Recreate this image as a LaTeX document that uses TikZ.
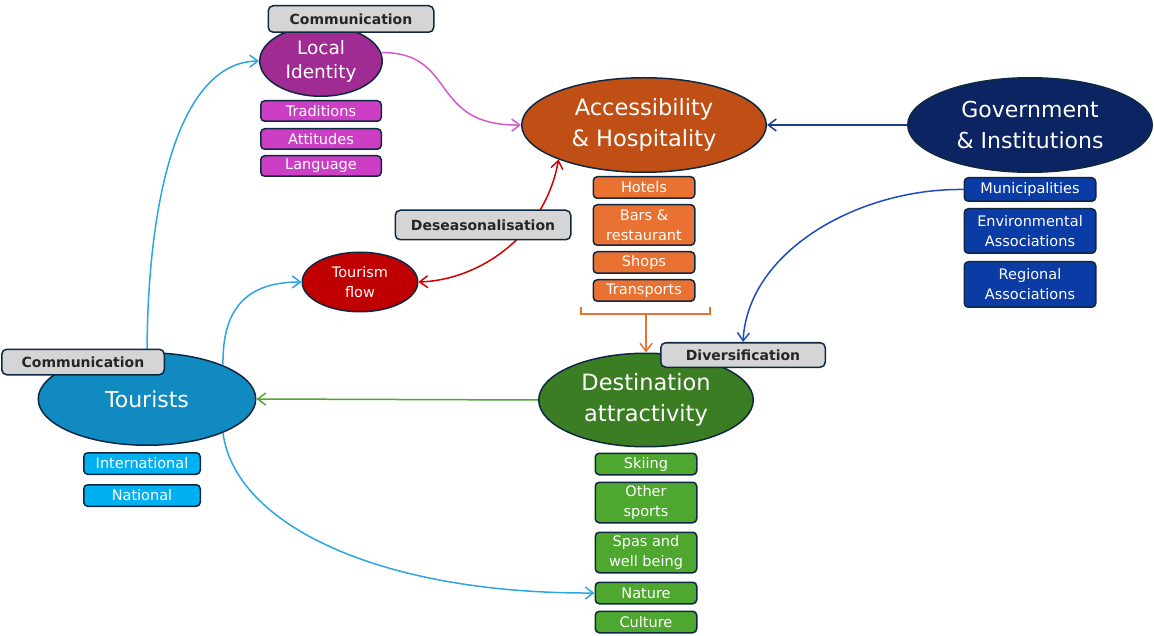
\documentclass[tikz,border=0pt]{standalone}
\usepackage{fontspec}
\setmainfont{DejaVu Sans}
\usepackage{xcolor}
\usepackage{tikz}
\usetikzlibrary{arrows.meta, positioning, shapes.geometric}
\definecolor{edgedark}{HTML}{0E2841}
\definecolor{taggray}{HTML}{D5D5D5}
\definecolor{lipurple}{HTML}{A02B93}
\definecolor{limagenta}{HTML}{CC3FC4}
\definecolor{accbrown}{HTML}{C04F15}
\definecolor{accorange}{HTML}{E97132}
\definecolor{govnavy}{HTML}{0C2461}
\definecolor{govblue}{HTML}{0B3BA5}
\definecolor{destgreen}{HTML}{3A7D22}
\definecolor{itemgreen}{HTML}{4EA72E}
\definecolor{tourblue}{HTML}{108AC0}
\definecolor{tourcyan}{HTML}{00B0F0}
\definecolor{flowred}{HTML}{C00000}
\definecolor{arrblue}{HTML}{2CA6DF}
\definecolor{arrmagenta}{HTML}{D25ACC}
\definecolor{arrred}{HTML}{D40000}
\definecolor{arrnavy}{HTML}{1F3C99}
\definecolor{arrroyal}{HTML}{1E4BC0}

\begin{document}
\begin{tikzpicture}[
  x=1pt, y=-1pt,
  hub/.style={ellipse, draw=edgedark, line width=1.5pt, text=white, align=center, inner sep=0pt, font=\fontsize{22.5}{31}\selectfont},
  item/.style={draw=edgedark, line width=1.5pt, rounded corners=4pt, text=white, align=center, minimum width=101.5pt, minimum height=21.5pt, inner sep=1pt, font=\fontsize{14.5}{20}\selectfont},
  tall/.style={minimum height=40.5pt},
  tag/.style={draw=edgedark, line width=1.5pt, fill=taggray, rounded corners=5pt, text=black!85, minimum height=25.5pt, font=\fontsize{14}{16}\selectfont\bfseries},
  arrow/.style={-{Straight Barb[length=8pt, width=12pt]}, line width=1.5pt},
  node distance=6pt
]
\useasboundingbox (0,0) rectangle (1154,636);

\node[hub, fill=lipurple, minimum width=122.5pt, minimum height=70.5pt, font=\fontsize{18.5}{24}\selectfont] (localid) at (321,61) {Local\\Identity};
\node[item, fill=limagenta, minimum width=120.5pt, minimum height=20.5pt, below=3pt of localid] (trad) {Traditions};
\node[item, fill=limagenta, minimum width=120.5pt, minimum height=20.5pt, below=of trad] (attit) {Attitudes};
\node[item, fill=limagenta, minimum width=120.5pt, minimum height=20.5pt, below=5pt of attit] (lang) {Language};

\node[hub, fill=accbrown, minimum width=244.5pt, minimum height=94.5pt] (access) at (644,125) {Accessibility\\\& Hospitality};
\node[item, fill=accorange, below=3pt of access] (hotels) {Hotels};
\node[item, fill=accorange, tall, below=5pt of hotels] (bars) {Bars \&\\restaurant};
\node[item, fill=accorange, below=5pt of bars] (shops) {Shops};
\node[item, fill=accorange, below=5pt of shops] (transp) {Transports};

\node[hub, fill=govnavy, minimum width=244.5pt, minimum height=94.5pt, font=\fontsize{22}{31}\selectfont] (gov) at (1030,125) {Government\\\& Institutions};
\node[item, fill=govblue, minimum width=131.5pt, minimum height=23.5pt, below=4pt of gov] (munic) {Municipalities};
\node[item, fill=govblue, minimum width=131.5pt, minimum height=44.5pt, below=of munic] (envir) {Environmental\\Associations};
\node[item, fill=govblue, minimum width=131.5pt, minimum height=45.5pt, below=7pt of envir] (region) {Regional\\Associations};

\node[hub, fill=flowred, minimum width=115.5pt, minimum height=59.5pt, font=\fontsize{14.5}{20}\selectfont] (flow) at (360,282) {Tourism\\flow};

\node[hub, fill=destgreen, minimum width=214.5pt, minimum height=93.5pt] (dest) at (646,400) {Destination\\attractivity};
\node[item, fill=itemgreen, below=5pt of dest] (skiing) {Skiing};
\node[item, fill=itemgreen, tall, below=of skiing] (sports) {Other\\sports};
\node[item, fill=itemgreen, tall, below=8pt of sports] (spas) {Spas and\\well being};
\node[item, fill=itemgreen, below=8pt of spas] (nature) {Nature};
\node[item, fill=itemgreen, below=of nature] (culture) {Culture};

\node[hub, fill=tourblue, minimum width=217.5pt, minimum height=92.5pt, font=\fontsize{22}{31}\selectfont] (tourists) at (147,399) {Tourists};
\node[item, fill=tourcyan, minimum width=116.5pt, below=6pt of tourists, xshift=-5pt] (intl) {International};
\node[item, fill=tourcyan, minimum width=116.5pt, below=9pt of intl] (natl) {National};

\node[tag, minimum width=164.5pt, minimum height=24.5pt] (divers) at (743,355) {Diversification};

\coordinate (brmid) at (646,314);

\draw[arrow, arrblue] (tourists.north) .. controls (148,180) and (185,62) .. (localid.west);
\draw[arrow, arrblue] (tourists.24) .. controls (222,305) and (250,282) .. (flow.west);
\draw[arrow, arrblue] (tourists.-24) .. controls (235,525) and (380,594) .. (nature.west);
\draw[arrow, arrmagenta] (localid.8) .. controls (458,52) and (428,126) .. (access.west);
\draw[arrow, arrred, {Straight Barb[length=8pt, width=12pt]}-{Straight Barb[length=8pt, width=12pt]}] (flow.east) .. controls (480,280) and (545,235) .. (access.202);
\draw[arrow, arrnavy] (gov.west) -- (access.east);
\draw[arrow, arrroyal] (munic.west) .. controls (860,188) and (748,250) .. (divers.north);
\draw[arrow, itemgreen] (dest.west) -- (tourists.east);
\draw[line width=1.5pt, accorange] ([xshift=-65pt]brmid) ++(0,-7) -- ++(0,7) -- ++(129,0) -- ++(0,-7);
\draw[arrow, accorange] (brmid) -- (dest.north);

\node[tag, minimum width=165.5pt, minimum height=26.5pt] (commtop) at (351,19) {Communication};
\node[tag, minimum width=162.5pt] (commleft) at (83,362) {Communication};
\node[tag, minimum width=175.5pt, minimum height=29.5pt] (deseas) at (483,225) {Deseasonalisation};
\end{tikzpicture}
\end{document}
